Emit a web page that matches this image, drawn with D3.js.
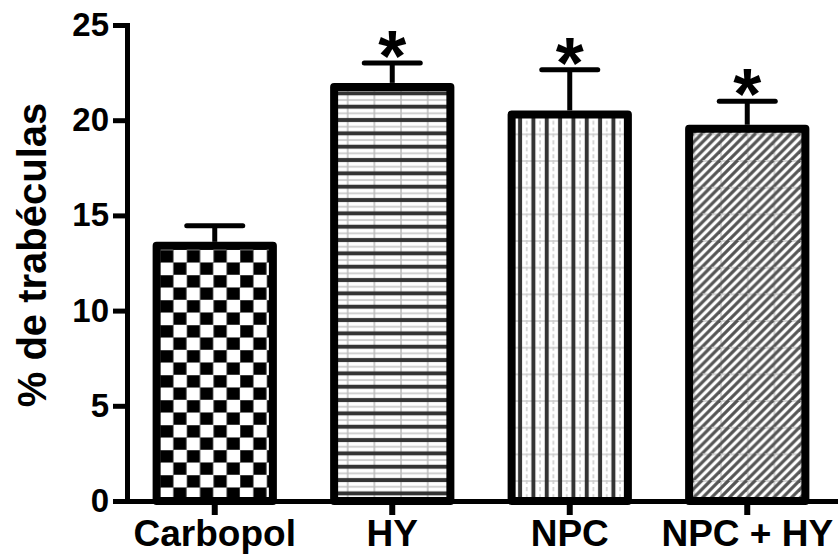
<!DOCTYPE html>
<html>
<head>
<meta charset="utf-8">
<script src="https://cdn.jsdelivr.net/npm/d3@7"></script>
<style>
  body { margin: 0; background: #fff; }
  svg { display: block; }
</style>
</head>
<body>
<script>
var categories = ['Carbopol', 'HY', 'NPC', 'NPC + HY'];
var means = [13.4, 21.75, 20.3, 19.55];
var sems = [1.05, 1.25, 2.35, 1.45];
var significant = [false, true, true, true];
var yTicks = [0, 5, 10, 15, 20, 25];
var patternIds = ['checker', 'hlines', 'vlines', 'diag'];

var w = 838, h = 558,
  font = 'Liberation Sans, Arial, Helvetica, sans-serif';

var rows = categories.map(function (c, i) {
  return { cat: c, mean: means[i], sem: sems[i], sig: significant[i], pat: patternIds[i] };
});

var svg = d3.select('body')
  .append('svg')
  .attr('width', w)
  .attr('height', h);

var x = d3.scaleBand().domain(categories).range([126, 836]).padding(0);
var y = d3.scaleLinear().domain([0, 25]).range([501, 25]);
var barW = x.bandwidth() * 0.655;
function cx(d) { return x(d.cat) + x.bandwidth() / 2; }

// fill patterns
var defs = svg.append('defs');
var g26 = 26.67;

var p1 = defs.append('pattern').attr('id', 'checker')
  .attr('patternUnits', 'userSpaceOnUse').attr('width', g26).attr('height', 25);
p1.append('rect').attr('width', g26).attr('height', 25).attr('fill', '#fff');
p1.append('rect').attr('x', 0).attr('y', 0).attr('width', g26 / 2).attr('height', 12.5)
  .attr('fill', '#000').attr('stroke', '#777').attr('stroke-width', 1);
p1.append('rect').attr('x', g26 / 2).attr('y', 12.5).attr('width', g26 / 2).attr('height', 12.5)
  .attr('fill', '#000').attr('stroke', '#777').attr('stroke-width', 1);

var p2 = defs.append('pattern').attr('id', 'hlines')
  .attr('patternUnits', 'userSpaceOnUse').attr('width', g26).attr('height', g26 / 2);
p2.append('rect').attr('width', g26).attr('height', g26 / 2).attr('fill', '#fff');
p2.append('line').attr('x1', 0).attr('x2', g26).attr('y1', g26 / 4).attr('y2', g26 / 4)
  .attr('stroke', '#d0d0d0').attr('stroke-width', 2);
p2.append('line').attr('x1', 1).attr('x2', 1).attr('y1', 0).attr('y2', g26 / 2)
  .attr('stroke', '#bbb').attr('stroke-width', 1.5);
p2.append('line').attr('x1', 0).attr('x2', g26).attr('y1', 0).attr('y2', 0)
  .attr('stroke', '#333').attr('stroke-width', 4);
p2.append('line').attr('x1', 0).attr('x2', g26).attr('y1', g26 / 2).attr('y2', g26 / 2)
  .attr('stroke', '#333').attr('stroke-width', 4);

var p3 = defs.append('pattern').attr('id', 'vlines')
  .attr('patternUnits', 'userSpaceOnUse').attr('width', g26 / 2).attr('height', g26);
p3.append('rect').attr('width', g26 / 2).attr('height', g26).attr('fill', '#fff');
p3.append('line').attr('x1', g26 / 4).attr('x2', g26 / 4).attr('y1', 0).attr('y2', g26)
  .attr('stroke', '#ccc').attr('stroke-width', 1.5).attr('stroke-dasharray', '4,3');
p3.append('line').attr('x1', 0).attr('x2', g26 / 2).attr('y1', 1).attr('y2', 1)
  .attr('stroke', '#ccc').attr('stroke-width', 1.5);
p3.append('line').attr('x1', 0).attr('x2', 0).attr('y1', 0).attr('y2', g26)
  .attr('stroke', '#333').attr('stroke-width', 4);
p3.append('line').attr('x1', g26 / 2).attr('x2', g26 / 2).attr('y1', 0).attr('y2', g26)
  .attr('stroke', '#333').attr('stroke-width', 4);

var p4 = defs.append('pattern').attr('id', 'diag')
  .attr('patternUnits', 'userSpaceOnUse').attr('width', g26).attr('height', g26);
p4.append('rect').attr('width', g26).attr('height', g26).attr('fill', '#fff');
p4.append('line').attr('x1', 0).attr('x2', g26).attr('y1', 1).attr('y2', 1)
  .attr('stroke', '#ccc').attr('stroke-width', 1.5);
p4.append('line').attr('x1', 1).attr('x2', 1).attr('y1', 0).attr('y2', g26)
  .attr('stroke', '#ccc').attr('stroke-width', 1.5);
var step = g26 / 3;
for (var k = -3; k <= 6; k++) {
  p4.append('line')
    .attr('x1', k * step - g26).attr('y1', g26 + g26)
    .attr('x2', k * step + g26).attr('y2', 0)
    .attr('stroke', '#555').attr('stroke-width', 3.2);
}

// bars
svg.selectAll('rect.bar').data(rows)
  .enter()
  .append('rect')
  .attr('class', 'bar')
  .attr('x', function (d) { return cx(d) - barW / 2; })
  .attr('y', function (d) { return y(d.mean); })
  .attr('width', barW)
  .attr('height', function (d) { return y(0) - y(d.mean); })
  .attr('fill', function (d) { return 'url(#' + d.pat + ')'; })
  .attr('stroke', '#000')
  .attr('stroke-width', 8)
  .attr('stroke-linejoin', 'round');

// error bars (upper only)
var err = svg.selectAll('g.err').data(rows)
  .enter()
  .append('g')
  .attr('class', 'err');
err.append('line')
  .attr('x1', cx)
  .attr('x2', cx)
  .attr('y1', function (d) { return y(d.mean) - 4; })
  .attr('y2', function (d) { return y(d.mean + d.sem); })
  .attr('stroke', '#000').attr('stroke-width', 5);
err.append('line')
  .attr('x1', function (d) { return cx(d) - 28; })
  .attr('x2', function (d) { return cx(d) + 28; })
  .attr('y1', function (d) { return y(d.mean + d.sem); })
  .attr('y2', function (d) { return y(d.mean + d.sem); })
  .attr('stroke', '#000').attr('stroke-width', 5).attr('stroke-linecap', 'round');

// significance marks
svg.selectAll('text.star').data(rows.filter(function (d) { return d.sig; }))
  .enter()
  .append('text')
  .attr('class', 'star')
  .attr('x', cx)
  .attr('y', function (d) { return y(d.mean + d.sem) + 18; })
  .attr('text-anchor', 'middle')
  .attr('font-family', font)
  .attr('font-weight', 'bold')
  .attr('font-size', '72px')
  .text('*');

// axes
var yAxis = svg.append('g')
  .attr('transform', 'translate(127,0)')
  .call(d3.axisLeft(y).tickValues(yTicks).tickSize(14).tickSizeOuter(0).tickPadding(4)
    .tickFormat(d3.format('d')));
var xAxis = svg.append('g')
  .attr('transform', 'translate(0,' + y(0) + ')')
  .call(d3.axisBottom(x).tickSize(14).tickSizeOuter(0).tickPadding(5));

[yAxis, xAxis].forEach(function (a) {
  a.select('.domain').attr('stroke', '#000').attr('stroke-width', 5)
    .attr('stroke-linecap', 'square');
  a.selectAll('.tick line').attr('stroke', '#000').attr('stroke-width', 5);
  a.selectAll('.tick text')
    .attr('fill', '#000')
    .attr('font-family', font)
    .attr('font-weight', 'bold')
    .attr('font-size', '33px');
});
xAxis.selectAll('.tick line').attr('stroke-width', 6);
xAxis.selectAll('.tick text').attr('font-size', '37px');

// y axis title
svg.append('text')
  .attr('transform', 'translate(46,255) rotate(-90)')
  .attr('text-anchor', 'middle')
  .attr('font-family', font)
  .attr('font-weight', 'bold')
  .attr('font-size', '40px')
  .attr('fill', '#000')
  .text('% de trabéculas');
</script>
</body>
</html>
